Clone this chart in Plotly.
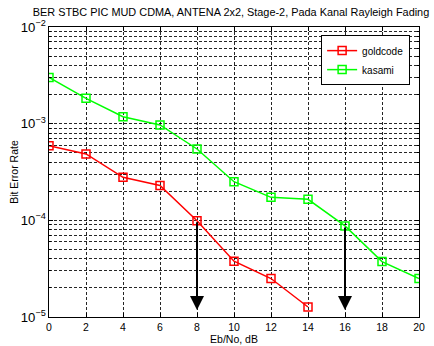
import plotly.graph_objects as go
import numpy as np

ebno = [0, 2, 4, 6, 8, 10, 12, 14, 16, 18, 20]
gold_x = [0, 2, 4, 6, 8, 10, 12, 14]
gold_ber = [5.9e-4, 4.86e-4, 2.79e-4, 2.29e-4, 9.9e-5, 3.78e-5, 2.5e-5, 1.27e-5]
kasami_ber = [3.01e-3, 1.83e-3, 1.18e-3, 9.7e-4, 5.47e-4, 2.51e-4, 1.73e-4, 1.65e-4, 8.75e-5, 3.74e-5, 2.5e-5]
arrow_x = [8, 16]
arrow_start = [9.9e-5, 8.75e-5]
arrow_end = [1.18e-5, 1.18e-5]

FONT = "Liberation Sans, Arial, sans-serif"

fig = go.Figure()
fig.add_trace(go.Scatter(
    x=gold_x, y=gold_ber, mode="lines+markers", name="goldcode",
    line=dict(color="#ff0000", width=1.5),
    marker=dict(symbol="square-open", size=8, color="#ff0000", line=dict(width=1.5)),
))
fig.add_trace(go.Scatter(
    x=ebno, y=kasami_ber, mode="lines+markers", name="kasami",
    line=dict(color="#00ff00", width=1.5),
    marker=dict(symbol="square-open", size=8, color="#00ff00", line=dict(width=1.5)),
))

for ax_, y0, y1 in zip(arrow_x, arrow_start, arrow_end):
    fig.add_annotation(
        x=ax_, y=np.log10(y1), ax=ax_, ay=np.log10(y0),
        xref="x", yref="y", axref="x", ayref="y",
        text="", showarrow=True, arrowhead=2, arrowsize=1.4,
        arrowwidth=2, arrowcolor="black", standoff=0, startstandoff=0,
    )

grid_common = dict(gridcolor="rgba(0,0,0,0.85)", griddash="3px,2px", gridwidth=1)

fig.update_xaxes(
    range=[0, 20], dtick=2, tick0=0, automargin=False,
    showline=True, linecolor="black", linewidth=1, mirror="ticks",
    ticks="inside", ticklen=4, tickcolor="black",
    showgrid=True, zeroline=False, **grid_common,
    tickfont=dict(family=FONT, size=10.5, color="black"),
    title=dict(text="Eb/No, dB", font=dict(family=FONT, size=10.5, color="black"), standoff=2),
)
fig.update_yaxes(
    type="log", range=[-5, -2], dtick=1, automargin=False,
    exponentformat="power",
    showline=True, linecolor="black", linewidth=1, mirror="ticks",
    ticks="inside", ticklen=4, tickcolor="black",
    showgrid=True, zeroline=False, **grid_common,
    minor=dict(dtick="D1", showgrid=True, ticks="inside", ticklen=2, tickcolor="black",
               gridcolor="rgba(0,0,0,0.85)", griddash="3px,2px", gridwidth=1),
    tickfont=dict(family=FONT, size=10.5, color="black"),
    title=dict(text="Bit Error Rate", font=dict(family=FONT, size=10.5, color="black"), standoff=0),
)

fig.update_layout(
    width=434, height=346,
    margin=dict(l=49, r=15, t=27, b=29, autoexpand=False),
    paper_bgcolor="white", plot_bgcolor="white",
    font=dict(family=FONT, size=10.5, color="black"),
    title=dict(text="BER STBC PIC MUD CDMA, ANTENA 2x2, Stage-2, Pada Kanal Rayleigh Fading",
               x=231 / 434, xanchor="center", y=1 - 12 / 346, yanchor="middle", yref="container",
               font=dict(family=FONT, size=10.9, color="black")),
    legend=dict(x=0.976, y=0.972, xanchor="right", yanchor="top",
                bgcolor="white", bordercolor="black", borderwidth=1,
                font=dict(family=FONT, size=10, color="black"),
                tracegroupgap=0, itemwidth=30),
    showlegend=True,
)

fig.write_html("out.html", config={"displayModeBar": False},
               post_script="document.body.style.margin='0';")
